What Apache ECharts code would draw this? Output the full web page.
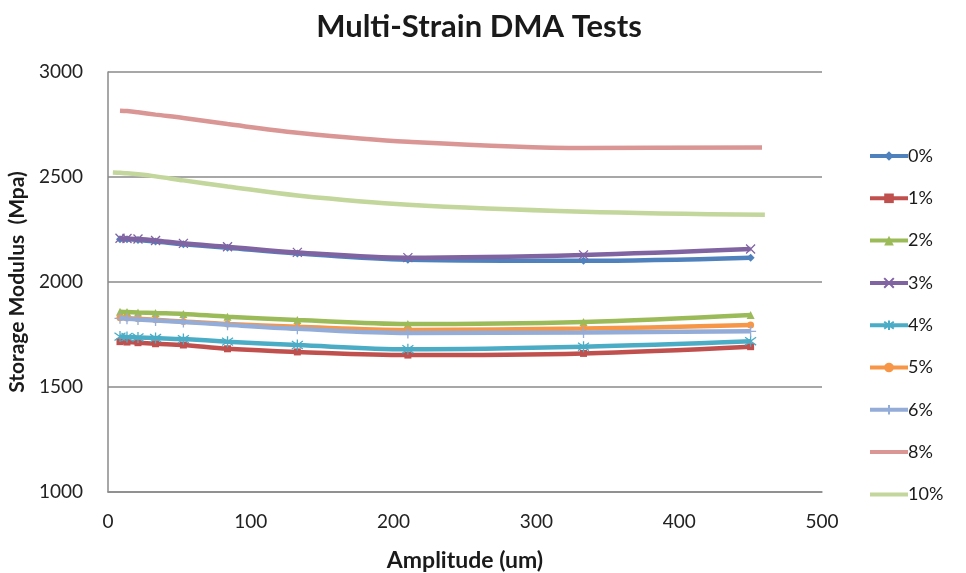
<!DOCTYPE html>
<html>
<head>
<meta charset="utf-8">
<script src="https://cdn.jsdelivr.net/npm/echarts@6/dist/echarts.min.js"></script>
<style>
  html, body { margin: 0; padding: 0; background: #ffffff; }
  #chart { width: 966px; height: 573px; }
</style>
</head>
<body>
<div id="chart"></div>
<script>
// Amplitude sweep points (um)
const amplitude = [8.4, 13.3, 21, 33.3, 52.8, 83.7, 132.6, 210, 333, 450];
const amplitude8 = [8.4, 13.3, 21, 33.3, 52.8, 83.7, 132.6, 210, 333, 458];
const amplitude10 = [3.4, 8.4, 13.3, 21, 33.3, 52.8, 83.7, 132.6, 210, 333, 460];

// Storage modulus (MPa) per pre-strain level
const strain0 = [2204, 2203, 2200, 2193, 2180, 2163, 2136, 2106, 2101, 2116];
const strain1 = [1716, 1714, 1711, 1706, 1700, 1682, 1667, 1652, 1660, 1692];
const strain2 = [1858, 1857, 1855, 1852, 1848, 1835, 1819, 1800, 1810, 1843];
const strain3 = [2208, 2207, 2205, 2198, 2184, 2168, 2141, 2116, 2129, 2157];
const strain4 = [1740, 1738, 1736, 1733, 1728, 1716, 1700, 1680, 1692, 1718];
const strain5 = [1830, 1828, 1825, 1820, 1812, 1800, 1787, 1772, 1778, 1795];
const strain6 = [1827, 1825, 1822, 1817, 1810, 1796, 1777, 1757, 1760, 1765];
const strain8 = [2816, 2814, 2808, 2797, 2781, 2752, 2711, 2668, 2638, 2641];
const strain10 = [2522, 2520, 2518, 2513, 2503, 2484, 2455, 2412, 2368, 2335, 2320];

const seriesNames = ['0%', '1%', '2%', '3%', '4%', '5%', '6%', '8%', '10%'];

// Axis ticks
const xTicks = { min: 0, max: 500, step: 100 };
const yTicks = { min: 1000, max: 3000, step: 500 };

const FONT = 'Lato, "Open Sans", sans-serif';

const SYM_X = 'path://M0,0L10,10M10,0L0,10';
const SYM_STAR = 'path://M0,0L10,10M10,0L0,10M5,-2L5,12';
const SYM_PLUS = 'path://M5,0L5,10M2,5L8,5';

const styles = [
  { color: '#4F81BD', symbol: 'diamond', size: 8, stroke: 0 },
  { color: '#C0504D', symbol: 'rect', size: 7, stroke: 0 },
  { color: '#9BBB59', symbol: 'triangle', size: 8, stroke: 0 },
  { color: '#8064A2', symbol: SYM_X, size: 9, stroke: 1.3 },
  { color: '#4BACC6', symbol: SYM_STAR, size: 11, stroke: 1.3 },
  { color: '#F79646', symbol: 'circle', size: 7, stroke: 0 },
  { color: '#93ADD8', symbol: SYM_PLUS, size: 11, stroke: 1.3 },
  { color: '#D99694', symbol: 'none', size: 0, stroke: 0 },
  { color: '#C3D69B', symbol: 'none', size: 0, stroke: 0 }
];

const xs = [amplitude, amplitude, amplitude, amplitude, amplitude, amplitude, amplitude, amplitude8, amplitude10];
const ys = [strain0, strain1, strain2, strain3, strain4, strain5, strain6, strain8, strain10];

const series = seriesNames.map((name, i) => {
  const st = styles[i];
  return {
    name: name,
    type: 'line',
    smooth: 0.35,
    data: xs[i].map((x, k) => [x, ys[i][k]]),
    symbol: st.symbol,
    symbolSize: st.size,
    showSymbol: st.symbol !== 'none',
    lineStyle: { color: st.color, width: 4.5 },
    itemStyle: {
      color: st.color,
      borderColor: st.color,
      borderWidth: st.stroke
    },
    z: 2 + i,
    animation: false
  };
});

// Legend entries: plain line for series drawn without markers
const legendData = seriesNames.map((name, i) => (
  styles[i].symbol === 'none'
    ? { name: name, itemStyle: { opacity: 0 } }
    : { name: name }
));

const chart = echarts.init(document.getElementById('chart'), null, { renderer: 'canvas' });
chart.setOption({
  backgroundColor: '#ffffff',
  animation: false,
  title: {
    text: 'Multi-Strain DMA Tests',
    left: 474,
    top: 6,
    textAlign: 'center',
    textStyle: { fontFamily: FONT, fontWeight: 'bold', fontSize: 31, color: '#1a1a1a' }
  },
  grid: {
    left: 108, right: 144, top: 72, bottom: 81,
    containLabel: false,
    outerBoundsMode: 'none'
  },
  legend: {
    orient: 'vertical',
    left: 863,
    top: 142,
    itemWidth: 38,
    itemHeight: 12,
    itemGap: 24.3,
    lineStyle: { width: 4 },
    textStyle: { fontFamily: FONT, fontSize: 18, lineHeight: 18, color: '#1a1a1a', padding: [0, 0, 0, -5] },
    data: legendData
  },
  xAxis: {
    type: 'value',
    min: xTicks.min,
    max: xTicks.max,
    interval: xTicks.step,
    name: 'Amplitude (um)',
    nameLocation: 'middle',
    nameGap: 57,
    nameTextStyle: { fontFamily: FONT, fontWeight: 'bold', fontSize: 23, color: '#1a1a1a' },
    axisLine: { show: true, lineStyle: { color: '#8a8a8a', width: 1.5 } },
    axisTick: { show: false },
    splitLine: { show: false },
    axisLabel: { fontFamily: FONT, fontSize: 19, color: '#222', margin: 20 }
  },
  yAxis: {
    type: 'value',
    min: yTicks.min,
    max: yTicks.max,
    interval: yTicks.step,
    name: 'Storage Modulus  (Mpa)',
    nameLocation: 'middle',
    nameGap: 79,
    nameTextStyle: { fontFamily: FONT, fontWeight: 'bold', fontSize: 21, color: '#1a1a1a' },
    axisLine: { show: true, lineStyle: { color: '#8a8a8a', width: 1.5 } },
    axisTick: { show: false },
    splitLine: { show: true, lineStyle: { color: '#8a8a8a', width: 1.5 } },
    axisLabel: {
      fontFamily: FONT, fontSize: 19, color: '#222', margin: 25,
      formatter: (v) => String(v)
    }
  },
  series: series
});
</script>
</body>
</html>
